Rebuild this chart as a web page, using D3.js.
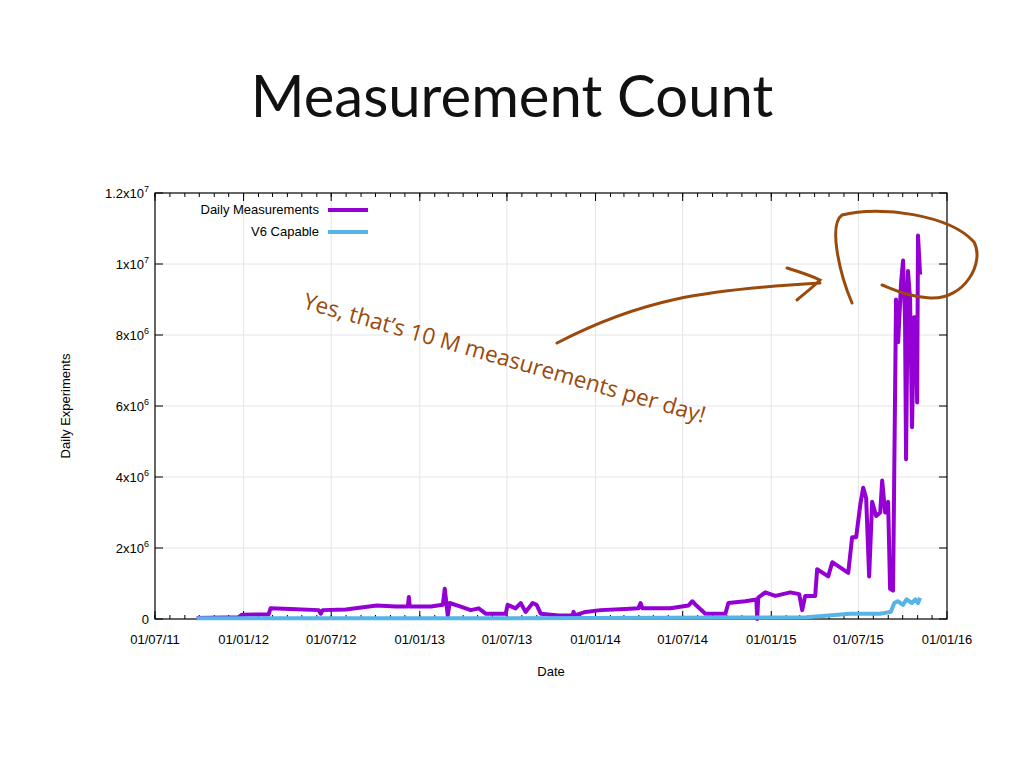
<!DOCTYPE html>
<html><head><meta charset="utf-8">
<script src="https://cdn.jsdelivr.net/npm/d3@7"></script>
<style>body{margin:0;background:#fff}</style></head>
<body><svg id="c" width="1024" height="768"></svg>
<script>
const dailyT=[2011.733,2011.972,2011.989,2012.142,2012.153,2012.267,2012.426,2012.438,2012.449,2012.58,2012.756,2012.864,2012.932,2012.938,2012.943,2013.063,2013.131,2013.142,2013.159,2013.17,2013.233,2013.29,2013.335,2013.375,2013.489,2013.5,2013.545,2013.574,2013.602,2013.642,2013.665,2013.688,2013.79,2013.869,2013.875,2013.881,2013.943,2014.028,2014.17,2014.244,2014.256,2014.267,2014.426,2014.528,2014.551,2014.574,2014.625,2014.739,2014.756,2014.852,2014.915,2014.92,2014.926,2014.966,2015.023,2015.108,2015.159,2015.176,2015.193,2015.25,2015.261,2015.324,2015.347,2015.438,2015.46,2015.483,2015.506,2015.523,2015.54,2015.557,2015.574,2015.597,2015.62,2015.631,2015.648,2015.665,2015.676,2015.693,2015.71,2015.722,2015.739,2015.75,2015.761,2015.767,2015.778,2015.79,2015.801,2015.813,2015.824,2015.83,2015.835,2015.847];
const dailyV=[0.03,0.05,0.12,0.13,0.3,0.28,0.25,0.15,0.25,0.27,0.38,0.35,0.35,0.62,0.35,0.35,0.4,0.85,0.1,0.45,0.35,0.25,0.3,0.15,0.15,0.4,0.3,0.45,0.2,0.45,0.4,0.15,0.1,0.1,0.2,0.1,0.2,0.25,0.28,0.3,0.45,0.3,0.3,0.38,0.5,0.38,0.15,0.15,0.45,0.5,0.55,0.0,0.6,0.75,0.65,0.75,0.7,0.25,0.65,0.65,1.4,1.2,1.6,1.3,2.3,2.3,3.2,3.7,3.4,1.2,3.3,2.9,3.0,3.9,3.0,3.3,0.85,0.8,9.0,7.8,9.5,10.1,8.5,4.5,9.8,9.0,5.4,8.5,8.5,6.1,10.8,9.7];
const v6T=[2011.733,2012.5,2013.5,2014.0,2014.8,2015.2,2015.45,2015.62,2015.68,2015.7,2015.72,2015.75,2015.77,2015.8,2015.82,2015.835,2015.847];
const v6V=[0.02,0.02,0.02,0.03,0.04,0.05,0.15,0.15,0.2,0.45,0.5,0.4,0.55,0.45,0.55,0.45,0.6];
const xTickDates=["2011-07-01","2012-01-01","2012-07-01","2013-01-01","2013-07-01","2014-01-01","2014-07-01","2015-01-01","2015-07-01","2016-01-01"];
const xTickLabels=["01/07/11","01/01/12","01/07/12","01/01/13","01/07/13","01/01/14","01/07/14","01/01/15","01/07/15","01/01/16"];
const yTicks=[0,2e6,4e6,6e6,8e6,1e7,1.2e7];
const yMant=["0","2x10","4x10","6x10","8x10","1x10","1.2x10"];
const yExp=["","6","6","6","6","7","7"];

function dy(t){const y=Math.floor(t);const a=new Date(y,0,1),b=new Date(y+1,0,1);return new Date(+a+(t-y)*(b-a));}
const svg=d3.select("#c");
const L=155,R=947,T=193,B=619;
const x=d3.scaleTime().domain([new Date(2011,6,1),new Date(2016,0,1)]).range([L,R]);
const y=d3.scaleLinear().domain([0,1.2e7]).range([B,T]);
const font="Liberation Sans, Arial, sans-serif";

svg.append("text").attr("x",512).attr("y",117).attr("text-anchor","middle").attr("font-family","Lato, 'Open Sans', sans-serif").attr("font-size",58).attr("fill","#111").text("Measurement Count");

const td=xTickDates.map(s=>{const p=s.split("-");return new Date(+p[0],+p[1]-1,+p[2]);});
svg.append("g").selectAll("line").data(td.slice(1,-1)).join("line").attr("x1",d=>x(d)).attr("x2",d=>x(d)).attr("y1",T).attr("y2",B).attr("stroke","#e4e4e4");
svg.append("g").selectAll("line").data(yTicks.slice(1,-1)).join("line").attr("x1",L).attr("x2",R).attr("y1",d=>y(d)).attr("y2",d=>y(d)).attr("stroke","#e4e4e4");
const minor=d3.timeMonth.every(1).range(td[0],td[td.length-1]);
const ax=svg.append("g");
ax.selectAll(".mb").data(minor).join("line").attr("x1",d=>x(d)).attr("x2",d=>x(d)).attr("y1",B).attr("y2",B-4).attr("stroke","#000");
ax.selectAll(".mt").data(minor).join("line").attr("x1",d=>x(d)).attr("x2",d=>x(d)).attr("y1",T).attr("y2",T+4).attr("stroke","#000");
ax.selectAll(".Mb").data(td).join("line").attr("x1",d=>x(d)).attr("x2",d=>x(d)).attr("y1",B).attr("y2",B-8).attr("stroke","#000");
ax.selectAll(".Mt").data(td).join("line").attr("x1",d=>x(d)).attr("x2",d=>x(d)).attr("y1",T).attr("y2",T+8).attr("stroke","#000");
ax.selectAll(".yl").data(yTicks).join("line").attr("x1",L).attr("x2",L+8).attr("y1",d=>y(d)).attr("y2",d=>y(d)).attr("stroke","#000");
ax.selectAll(".yr").data(yTicks).join("line").attr("x1",R).attr("x2",R-8).attr("y1",d=>y(d)).attr("y2",d=>y(d)).attr("stroke","#000");
svg.append("rect").attr("x",L).attr("y",T).attr("width",R-L).attr("height",B-T).attr("fill","none").attr("stroke","#000").attr("stroke-width",1.2);
svg.append("g").selectAll("text").data(td).join("text").attr("x",d=>x(d)).attr("y",644).attr("text-anchor","middle").attr("font-family",font).attr("font-size",13).text((d,i)=>xTickLabels[i]);
const yl=svg.append("g").selectAll("text").data(yTicks).join("text").attr("x",149).attr("y",d=>y(d)+5).attr("text-anchor","end").attr("font-family",font).attr("font-size",13);
yl.append("tspan").text((d,i)=>yMant[i]);
yl.append("tspan").attr("dy",-6).attr("font-size",9).text((d,i)=>yExp[i]);
svg.append("text").attr("x",551).attr("y",676).attr("text-anchor","middle").attr("font-family",font).attr("font-size",13).text("Date");
svg.append("text").attr("transform","translate(70,406) rotate(-90)").attr("text-anchor","middle").attr("font-family",font).attr("font-size",13).text("Daily Experiments");

const line=d3.line().x(d=>x(dy(d[0]))).y(d=>y(d[1]*1e6));
svg.append("path").attr("d",line(dailyT.map((t,i)=>[t,dailyV[i]]))).attr("fill","none").attr("stroke","#9400d3").attr("stroke-width",4).attr("stroke-linejoin","round");
svg.append("path").attr("d",line(v6T.map((t,i)=>[t,v6V[i]]))).attr("fill","none").attr("stroke","#56b4e9").attr("stroke-width",4).attr("stroke-linejoin","round");

const leg=[["Daily Measurements","#9400d3",210],["V6 Capable","#56b4e9",232]];
leg.forEach(l=>{svg.append("text").attr("x",319).attr("y",l[2]+4).attr("text-anchor","end").attr("font-family",font).attr("font-size",13).text(l[0]);
svg.append("line").attr("x1",328).attr("x2",368).attr("y1",l[2]).attr("y2",l[2]).attr("stroke",l[1]).attr("stroke-width",4);});

const br="#9a4a0c";
svg.append("text").attr("transform","translate(302,308) rotate(16)").attr("font-family","'Open Sans', Lato, sans-serif").attr("font-size",22.5).attr("fill",br).text("Yes, that’s 10 M measurements per day!");
const ag=svg.append("g").attr("fill","none").attr("stroke",br).attr("stroke-width",3).attr("stroke-linecap","round");
ag.append("path").attr("d","M557,343 C640,300 700,290 820,283");
ag.append("path").attr("d","M787,268 C800,272 812,276 820,280 C812,288 804,294 797,300");
ag.append("path").attr("d","M852,303 C840,275 828,225 842,215 C880,205 950,215 974,242 C985,262 965,300 930,298 C910,297 895,290 882,285");
</script></body></html>
